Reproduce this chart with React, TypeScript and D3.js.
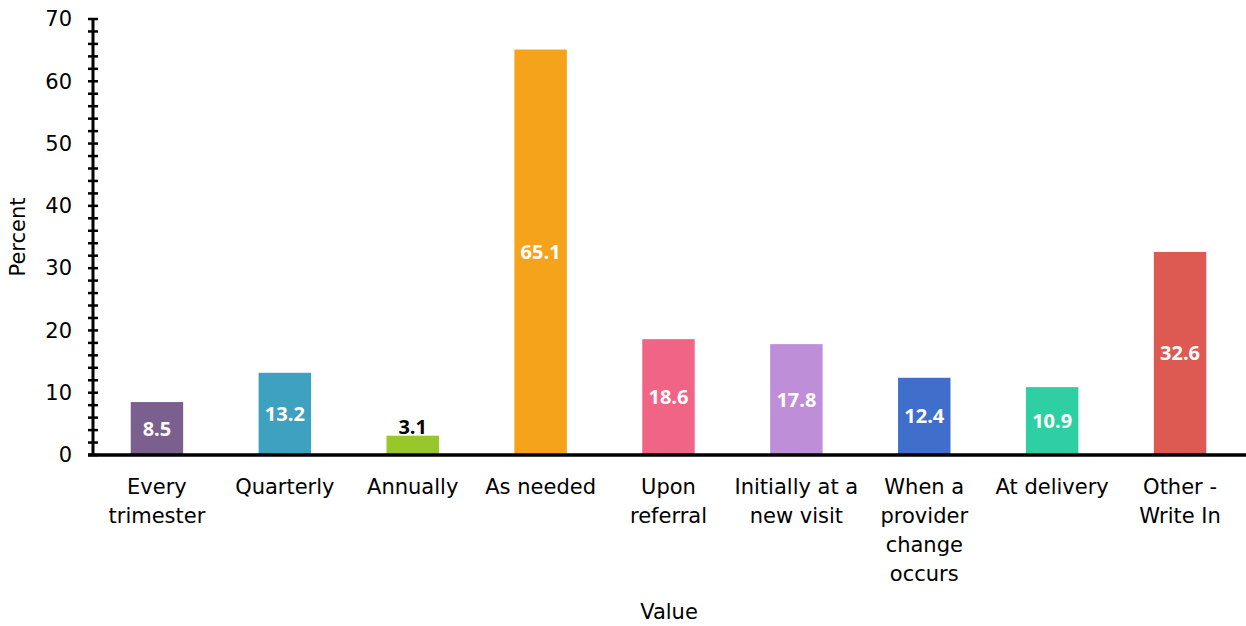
import React from "react";
import * as d3 from "d3";

const categories: string[][] = [
  ["Every", "trimester"],
  ["Quarterly"],
  ["Annually"],
  ["As needed"],
  ["Upon", "referral"],
  ["Initially at a", "new visit"],
  ["When a", "provider", "change", "occurs"],
  ["At delivery"],
  ["Other -", "Write In"],
];
const values: number[] = [8.5, 13.2, 3.1, 65.1, 18.6, 17.8, 12.4, 10.9, 32.6];
const colors: string[] = ["#7B5F8E", "#3FA1C0", "#97C72B", "#F4A31B", "#F06585", "#BE8FD8", "#3F6FCB", "#2ECFA2", "#DD5A52"];
const majorTicks: number[] = [0, 10, 20, 30, 40, 50, 60, 70];
const minorTicks: number[] = d3.range(0, 71, 2);

const W = 1246;
const H = 626;
const axisFont = "'Century Gothic', 'URW Gothic', 'DejaVu Sans', sans-serif";
const labelFont = "'Open Sans', 'Noto Sans', sans-serif";

export default function App() {
  const x = d3
    .scaleBand<number>()
    .domain(d3.range(values.length))
    .range([93, 1244])
    .paddingInner(0.59)
    .paddingOuter(0.295);
  const y = d3.scaleLinear().domain([0, 70]).range([455, 19]);
  const axisX = 93;

  return (
    <svg
      width={W}
      height={H}
      style={{ position: "absolute", left: 0, top: 0, background: "#fff" }}
    >
      {values.map((v, i) => {
        const bx = x(i)!;
        const bw = x.bandwidth();
        const top = y(v);
        const inside = v > 6;
        return (
          <g key={i}>
            <rect x={bx} y={top} width={bw} height={y(0) - top} fill={colors[i]} />
            <text
              x={bx + bw / 2}
              y={inside ? (top + y(0)) / 2 : top - 2}
              dy={inside ? "0.35em" : "0"}
              textAnchor="middle"
              fontFamily={labelFont}
              fontWeight="bold"
              fontSize={20}
              fill={inside ? "#fff" : "#000"}
            >
              {v.toFixed(1)}
            </text>
          </g>
        );
      })}
      {/* y axis */}
      <line x1={axisX} x2={axisX} y1={y(70)} y2={y(0)} stroke="#000" strokeWidth={3} />
      {minorTicks.map((t) => (
        <line key={"m" + t} x1={axisX - 5} x2={axisX + 5} y1={y(t)} y2={y(t)} stroke="#000" strokeWidth={2.5} />
      ))}
      {majorTicks.map((t) => (
        <text
          key={"t" + t}
          x={72}
          y={y(t)}
          dy="0.35em"
          textAnchor="end"
          fontFamily={axisFont}
          fontSize={21}
          fill="#000"
        >
          {t}
        </text>
      ))}
      {/* x axis */}
      <line x1={axisX - 5} x2={W} y1={y(0)} y2={y(0)} stroke="#000" strokeWidth={3.5} />
      {categories.map((lines, i) => (
        <text
          key={"c" + i}
          textAnchor="middle"
          fontFamily={axisFont}
          fontSize={21}
          fill="#000"
        >
          {lines.map((ln, j) => (
            <tspan key={j} x={x(i)! + x.bandwidth() / 2} y={487 + j * 29} dy="0.35em">
              {ln}
            </tspan>
          ))}
        </text>
      ))}
      <text x={669} y={612} dy="0.35em" textAnchor="middle" fontFamily={axisFont} fontSize={21} fill="#000">
        Value
      </text>
      <text
        transform="translate(18,237) rotate(-90)"
        dy="0.35em"
        textAnchor="middle"
        fontFamily={axisFont}
        fontSize={21}
        fill="#000"
      >
        Percent
      </text>
    </svg>
  );
}
